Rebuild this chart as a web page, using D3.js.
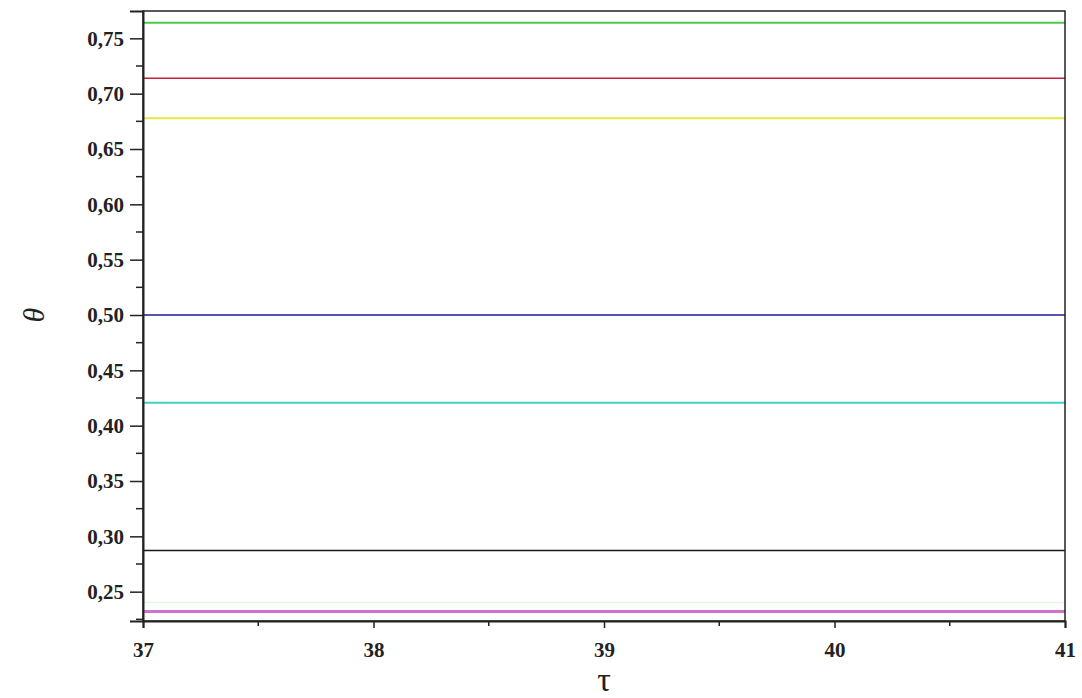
<!DOCTYPE html>
<html><head><meta charset="utf-8">
<script src="https://cdn.jsdelivr.net/npm/d3@7"></script>
<style>body{margin:0;background:#fff}svg{display:block}
text{font-family:"Liberation Serif","DejaVu Serif",serif}</style>
</head><body>
<svg id="c" width="1082" height="698"></svg>
<script>
const seriesNames = ["green","red","yellow","blue","cyan","black","palegreen","magenta"];
const seriesValues = [0.7641, 0.7139, 0.6777, 0.4999, 0.4208, 0.2871, 0.2403, 0.2321];
const seriesColors = ["#4cc94c","#c8203c","#e6e640","#1c1c96","#3fcfc4","#1a1a1a","#e2f6e2","#d070d0"];
const seriesWidths = [2, 1.5, 2, 1.5, 2, 1.5, 1.5, 3];
const xDomain = [37, 41];
const yDomain = [0.2235, 0.7747];
const xTicks = [37, 38, 39, 40, 41];
const yTicks = [0.25,0.30,0.35,0.40,0.45,0.50,0.55,0.60,0.65,0.70,0.75];
const xMinor = [37.5, 38.5, 39.5, 40.5];
const yMinor = [0.225,0.275,0.325,0.375,0.425,0.475,0.525,0.575,0.625,0.675,0.725];

const svg = d3.select("#c");
const L=143, R=1065, T=11, B=621;
const x = d3.scaleLinear().domain(xDomain).range([L,R]);
const y = d3.scaleLinear().domain(yDomain).range([B,T]);
const fmt = d => d3.format(".2f")(d).replace(".", ",");
const font = '"Liberation Serif","DejaVu Serif",serif';

// lines
svg.append("g").selectAll("line").data(seriesValues).join("line")
  .attr("x1", x(xDomain[0])).attr("x2", x(xDomain[1]))
  .attr("y1", d=>y(d)).attr("y2", d=>y(d))
  .attr("stroke", (d,i)=>seriesColors[i]).attr("stroke-width",(d,i)=>seriesWidths[i]);

// frame
svg.append("rect").attr("x",L).attr("y",T).attr("width",R-L).attr("height",B-T)
  .attr("fill","none").attr("stroke","#222").attr("stroke-width",1.5);

// y axis
const ya = svg.append("g").attr("transform",`translate(${L},0)`)
  .call(d3.axisLeft(y).tickValues(yTicks).tickFormat(fmt).tickSize(13).tickPadding(6))
  .attr("font-family",null);
ya.select(".domain").attr("stroke","#222").attr("stroke-width",2);
ya.selectAll(".tick line").attr("stroke","#222").attr("stroke-width",1.5);
ya.selectAll("text").style("font-family",font).attr("font-weight","bold").attr("font-size",21).attr("fill","#222");
svg.append("g").selectAll("line").data(yMinor.filter(v=>v>=yDomain[0]&&v<=yDomain[1])).join("line")
  .attr("x1",L-7).attr("x2",L).attr("y1",d=>y(d)).attr("y2",d=>y(d)).attr("stroke","#222").attr("stroke-width",1.5);

// x axis
const xa = svg.append("g").attr("transform",`translate(0,${B})`)
  .call(d3.axisBottom(x).tickValues(xTicks).tickFormat(d3.format("d")).tickSize(7).tickPadding(14))
  .attr("font-family",null);
xa.select(".domain").attr("stroke","#222").attr("stroke-width",2);
xa.selectAll(".tick line").attr("stroke","#222").attr("stroke-width",1.5);
xa.selectAll("text").style("font-family",font).attr("font-weight","bold").attr("font-size",21).attr("fill","#222");
svg.append("g").selectAll("line").data(xMinor).join("line")
  .attr("x1",d=>x(d)).attr("x2",d=>x(d)).attr("y1",B).attr("y2",B+5).attr("stroke","#222").attr("stroke-width",1.5);

// axis titles
svg.append("text").attr("x",x(39)).attr("y",691).attr("text-anchor","middle")
  .style("font-family",font).attr("font-size",34).attr("fill","#222").text("τ");
svg.append("text").attr("transform",`translate(44,${y(0.5)}) rotate(-90)`).attr("text-anchor","middle")
  .style("font-family",font).attr("font-style","italic").attr("font-size",30).attr("fill","#222").text("θ");
</script>
</body></html>
